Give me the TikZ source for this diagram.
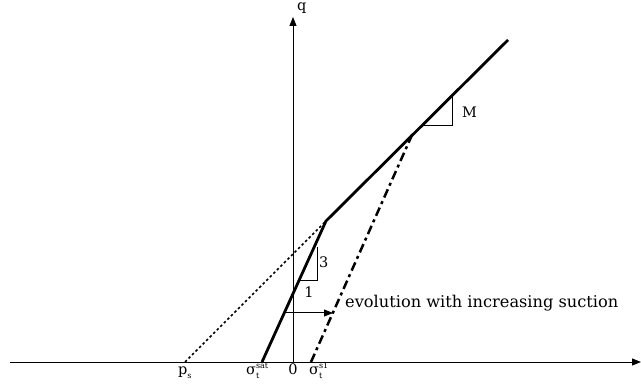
\documentclass[tikz,border=0pt]{standalone}
\usepackage{fontspec}
\setmainfont{DejaVu Serif}
\usetikzlibrary{arrows.meta}
\newcommand{\subsup}[3]{#1\rlap{\raisebox{-4pt}{\fontsize{8}{9}\selectfont #2}}\raisebox{6.5pt}{\fontsize{8}{9}\selectfont #3}}
\begin{document}
\begin{tikzpicture}[x=1pt,y=-1pt,
  axis/.style={line width=0.9pt,-{Triangle[length=9pt,width=7pt]}},
  thickline/.style={line width=2.8pt},
  dashline/.style={line width=2.5pt,dash pattern=on 9pt off 4pt on 3pt off 4pt},
  dotline/.style={line width=1.6pt,dash pattern=on 2.5pt off 2.5pt},
  tri/.style={line width=1pt},
  lbl/.style={font=\fontsize{14.5}{17}\selectfont,inner sep=0pt},
  evo/.style={line width=1pt,-{Triangle[length=9pt,width=7pt]}}]
\useasboundingbox (0,0) rectangle (641,390);
% axes
\coordinate (xs) at (10,362);
\coordinate (xe) at (641,362);
\coordinate (ys) at (293,362);
\coordinate (ye) at (293,17);
\draw[axis] (xs) -- (xe);
\draw[axis] (ys) -- (ye);
% key points
\coordinate (A) at (262,362);
\coordinate (B) at (326,221);
\coordinate (C) at (508,40);
\coordinate (D) at (311,362);
\coordinate (E) at (412,135);
\coordinate (P) at (185,362);
% lines
\draw[dotline] (P) -- (B);
\draw[dashline] (D) -- (E);
\draw[thickline,line join=miter] (A) -- (B) -- (C);
% slope triangles
\coordinate (t1) at (317,247);
\coordinate (t2) at (317,281);
\coordinate (t3) at (300,281);
\draw[tri] (t1) -- (t2) -- (t3);
\coordinate (m1) at (452,95);
\coordinate (m2) at (452,126);
\coordinate (m3) at (422,126);
\draw[tri] (m1) -- (m2) -- (m3);
% evolution arrow
\coordinate (e1) at (284,313);
\coordinate (e2) at (333,313);
\draw[evo] (e1) -- (e2);
% labels
\node[lbl,anchor=base west,font=\fontsize{16.2}{19}\selectfont] (evl) at (345,308) {evolution with increasing suction};
\node[lbl,anchor=base west] (l3) at (319,268) {3};
\node[lbl,anchor=base] (l1) at (309,298) {1};
\node[lbl,anchor=base west] (lM) at (462,118) {M};
\node[lbl,anchor=base west] (lq) at (297,11) {q};
\node[lbl,anchor=base] (l0) at (293,375) {0};
\node[lbl,anchor=base west] (lps) at (178,375) {p\raisebox{-4pt}{\fontsize{8}{9}\selectfont s}};
\node[lbl,anchor=base west] (lsat) at (246,375) {\subsup{σ}{t}{sat}};
\node[lbl,anchor=base west] (ls1) at (309,375) {\subsup{σ}{t}{s1}};
\end{tikzpicture}
\end{document}
